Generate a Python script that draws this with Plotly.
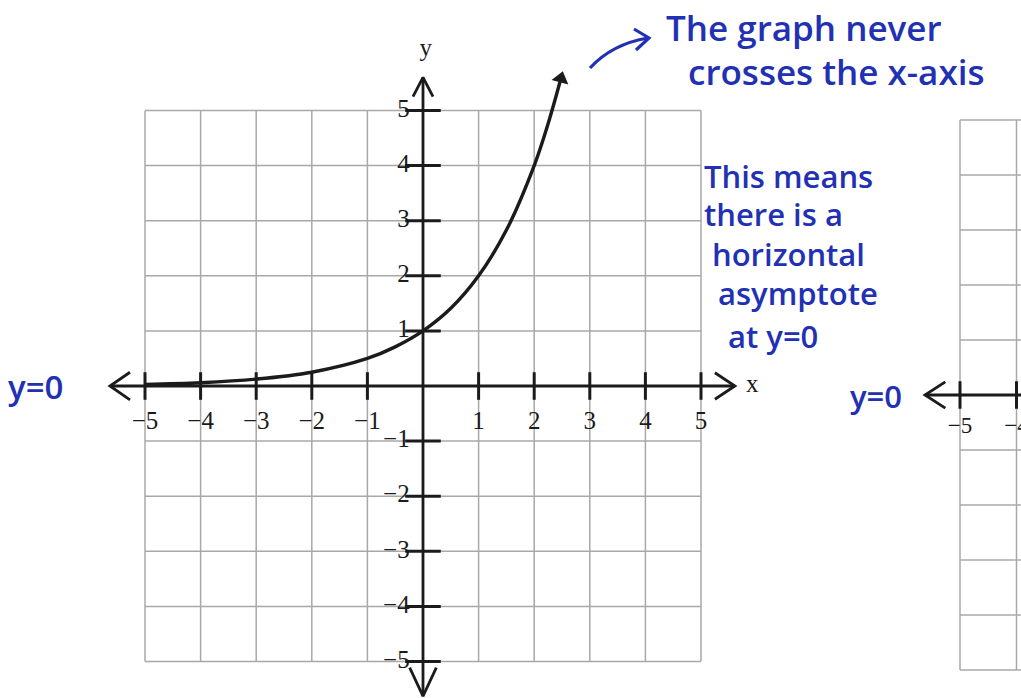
import plotly.graph_objects as go

# ---- data -------------------------------------------------------------
# points on the exponential curve
curve_x = [-5, -4, -3, -2, -1, -0.5, 0, 0.5, 1, 1.5, 2, 2.25, 2.48]
curve_y = [0.03, 0.06, 0.125, 0.25, 0.5, 0.71, 1, 1.41, 2, 2.83, 4, 4.76, 5.58]

x_ticks = [-5, -4, -3, -2, -1, 1, 2, 3, 4, 5]
y_ticks = [-5, -4, -3, -2, -1, 1, 2, 3, 4, 5]
x_tick_labels = ["\u22125", "\u22124", "\u22123", "\u22122", "\u22121", "1", "2", "3", "4", "5"]
y_tick_labels = ["\u22125", "\u22124", "\u22123", "\u22122", "\u22121", "1", "2", "3", "4", "5"]

grid_min, grid_max = -5, 5

# second (partially visible) graph on the right
right_x_ticks = [-5, -4]
right_x_tick_labels = ["\u22125", "\u22124"]

W, H = 1021, 698
INK = "#1b1b1b"
GRID = "#a8a8a8"
BLUE = "#2231b4"
SERIF = "Liberation Serif"
HAND = "Open Sans"

fig = go.Figure()


def seg_trace(xs, ys, color, width, xaxis="x", yaxis="y"):
    fig.add_trace(go.Scatter(x=xs, y=ys, mode="lines", line=dict(color=color, width=width),
                             hoverinfo="skip", showlegend=False, xaxis=xaxis, yaxis=yaxis))


# ---- main graph grid ---------------------------------------------------
gx, gy = [], []
for v in range(grid_min, grid_max + 1):
    gx += [v, v, None]
    gy += [grid_min, grid_max, None]
    gx += [grid_min, grid_max, None]
    gy += [v, v, None]
seg_trace(gx, gy, GRID, 1.5)

# axes
x_lo, x_hi = -5.63, 5.61
y_lo, y_hi = -5.63, 5.6
seg_trace([x_lo, x_hi], [0, 0], INK, 2.8)
seg_trace([0, 0], [y_lo, y_hi], INK, 2.8)

# open chevron arrowheads on the axes
seg_trace([x_lo + 0.36, x_lo, x_lo + 0.36], [0.25, 0, -0.25], INK, 2.8)
seg_trace([x_hi - 0.36, x_hi, x_hi - 0.36], [0.24, 0, -0.24], INK, 2.8)
seg_trace([-0.18, 0, 0.18], [y_hi - 0.35, y_hi, y_hi - 0.35], INK, 2.8)
seg_trace([-0.24, 0, 0.24], [y_lo + 0.52, y_lo, y_lo + 0.52], INK, 2.8)

# tick marks
tx, ty = [], []
for v in x_ticks:
    tx += [v, v, None]
    ty += [-0.25, 0.25, None]
seg_trace(tx, ty, INK, 3)
tx, ty = [], []
for v in y_ticks:
    tx += [-0.32, 0.32, None]
    ty += [v, v, None]
seg_trace(tx, ty, INK, 3)

# the exponential curve with an arrow at its end
fig.add_trace(go.Scatter(x=curve_x, y=curve_y, mode="lines",
                         line=dict(color=INK, width=3.4, shape="spline", smoothing=1.0),
                         hoverinfo="skip", showlegend=False))
fig.add_trace(go.Scatter(x=[curve_x[-1]], y=[curve_y[-1]], mode="markers",
                         marker=dict(symbol="triangle-up", size=15, color=INK, angle=15),
                         hoverinfo="skip", showlegend=False))

# tick labels
fig.add_trace(go.Scatter(x=x_ticks, y=[-0.66] * len(x_ticks), mode="text", text=x_tick_labels,
                         textfont=dict(family=SERIF, size=25, color=INK),
                         hoverinfo="skip", showlegend=False))
fig.add_trace(go.Scatter(x=[-0.24] * len(y_ticks), y=y_ticks, mode="text", text=y_tick_labels,
                         textposition="middle left",
                         textfont=dict(family=SERIF, size=25, color=INK),
                         hoverinfo="skip", showlegend=False))
fig.add_trace(go.Scatter(x=[0.05, 5.92], y=[6.1, 0.0], mode="text", text=["y", "x"],
                         textfont=dict(family=SERIF, size=25, color=INK),
                         hoverinfo="skip", showlegend=False))

# ---- partial graph on the right (own axes) -----------------------------
rgx, rgy = [], []
for v in range(grid_min, grid_max + 1):
    rgx += [v, v, None]
    rgy += [grid_min, grid_max, None]
    rgx += [grid_min, grid_max, None]
    rgy += [v, v, None]
seg_trace(rgx, rgy, GRID, 1.5, "x2", "y2")
seg_trace([-5.62, 5], [0, 0], INK, 2.8, "x2", "y2")
seg_trace([-5.62 + 0.36, -5.62, -5.62 + 0.36], [0.24, 0, -0.24], INK, 2.8, "x2", "y2")
rtx, rty = [], []
for v in right_x_ticks:
    rtx += [v, v, None]
    rty += [-0.25, 0.25, None]
seg_trace(rtx, rty, INK, 3, "x2", "y2")
fig.add_trace(go.Scatter(x=right_x_ticks, y=[-0.58] * 2, mode="text", text=right_x_tick_labels,
                         textfont=dict(family=SERIF, size=23, color=INK),
                         hoverinfo="skip", showlegend=False, xaxis="x2", yaxis="y2"))

# ---- handwritten notes -------------------------------------------------
def note(text, px, py, size, anchor="left"):
    fig.add_annotation(text=text, x=px / W, y=1 - py / H, xref="paper", yref="paper",
                       xanchor=anchor, yanchor="middle", showarrow=False,
                       font=dict(family=HAND, size=size, color=BLUE, weight=600))

note("The graph never", 664, 27, 35)
note("crosses the x-axis", 686, 71, 35)
note("This means", 702, 176, 31)
note("there is a", 702, 214, 31)
note("horizontal", 710, 254, 31)
note("asymptote", 716, 293, 31)
note("at y=0", 726, 336, 31)
note("y=0", 6, 386, 33)
note("y=0", 848, 396, 31)

# curved pointer arrow next to the top note
fig.add_shape(type="path", xref="paper", yref="paper",
              path=f"M {590/W},{1-68/H} Q {612/W},{1-44/H} {648/W},{1-38/H}",
              line=dict(color=BLUE, width=3.2))
fig.add_shape(type="path", xref="paper", yref="paper",
              path=f"M {634/W},{1-29/H} L {649/W},{1-38/H} L {636/W},{1-50/H}",
              line=dict(color=BLUE, width=3.2))

# heading line of the worksheet, mostly cut off at the top edge
fig.add_annotation(text="y = ab\u02e3  where  b > 1", x=262 / W, y=1 + 4 / H,
                   xref="paper", yref="paper", xanchor="left", yanchor="bottom",
                   showarrow=False, font=dict(family=SERIF, size=26, color=INK))

# ---- layout: axes span the whole page so one unit ≈ 55.6 px ------------
fig.update_layout(
    width=W, height=H,
    margin=dict(l=0, r=0, t=0, b=0),
    paper_bgcolor="white", plot_bgcolor="white",
    showlegend=False,
    xaxis=dict(range=[-423 / 55.6, (W - 423) / 55.6], visible=False, fixedrange=True),
    yaxis=dict(range=[-(H - 386) / 55.1, 386 / 55.1], visible=False, fixedrange=True),
    xaxis2=dict(range=[-5 - 960 / 56.5, -5 + (W - 960) / 56.5], visible=False,
                overlaying="x", fixedrange=True),
    yaxis2=dict(range=[-(H - 395) / 55.0, 395 / 55.0], visible=False,
                overlaying="y", fixedrange=True),
)

fig.write_html("out.html")
